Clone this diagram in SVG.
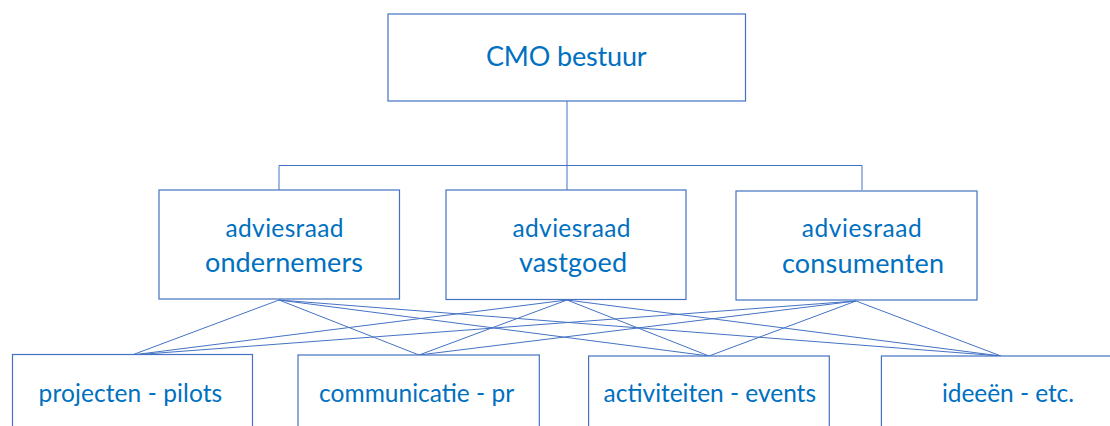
<svg xmlns="http://www.w3.org/2000/svg" width="1110" height="426" viewBox="0 0 1110 426">
<style>
.box{fill:#fff;stroke:#4472C4;stroke-width:1.2}
.ln{fill:none;stroke:#4472C4;stroke-width:1}
text{font-family:Lato,"Liberation Sans",sans-serif;fill:#0070C0;text-anchor:middle}
.t1{font-size:27px}
.s1{font-size:24.5px}
.s2{font-size:27px}
.b{font-size:24.5px}
</style>
<rect width="1110" height="426" fill="#fff"/>
<g id="connectors">
<path class="ln" d="M567,101 V190 M279,190 V165.5 H862 V190"/>
<path class="ln" d="M279,300 L132,355 M279,300 L419,355 M279,300 L709,356 M279,300 L1001,356"/>
<path class="ln" d="M567,300 L132,355 M567,300 L419,355 M567,300 L709,356 M567,300 L1001,356"/>
<path class="ln" d="M856,301 L132,355 M856,301 L419,355 M856,301 L709,356 M856,301 L1001,356"/>
</g>
<g id="cmo">
<rect class="box" x="388" y="14" width="357.5" height="87"/>
<text class="t1" x="566.3" y="65.5" textLength="160.7">CMO bestuur</text>
</g>
<g id="ondernemers">
<rect class="box" x="159" y="190" width="240.5" height="109"/>
<text class="s1" x="284.5" y="237.3" textLength="118">adviesraad</text>
<text class="s2" x="284" y="272.3" textLength="158">ondernemers</text>
</g>
<g id="vastgoed">
<rect class="box" x="446" y="190" width="240" height="109.5"/>
<text class="s1" x="571.5" y="237.3" textLength="118">adviesraad</text>
<text class="s2" x="573" y="272.3" textLength="108">vastgoed</text>
</g>
<g id="consumenten">
<rect class="box" x="736" y="191" width="241" height="109"/>
<text class="s1" x="861.7" y="237.3" textLength="120">adviesraad</text>
<text class="s2" x="863" y="272.7" textLength="162">consumenten</text>
</g>
<g id="projecten">
<rect class="box" x="12.5" y="354.5" width="240" height="100"/>
<text class="b" x="130.4" y="401.7" textLength="183.6">projecten - pilots</text>
</g>
<g id="communicatie">
<rect class="box" x="298" y="355" width="241.3" height="100"/>
<text class="b" x="416.6" y="401.7" textLength="195">communicatie - pr</text>
</g>
<g id="activiteiten">
<rect class="box" x="588.6" y="356" width="240.7" height="100"/>
<text class="b" x="709.8" y="402" textLength="212.4">activiteiten - events</text>
</g>
<g id="ideeen">
<rect class="box" x="881.4" y="356" width="260" height="100"/>
<text class="b" x="1008" y="402" textLength="132">ideeën - etc.</text>
</g>
</svg>
